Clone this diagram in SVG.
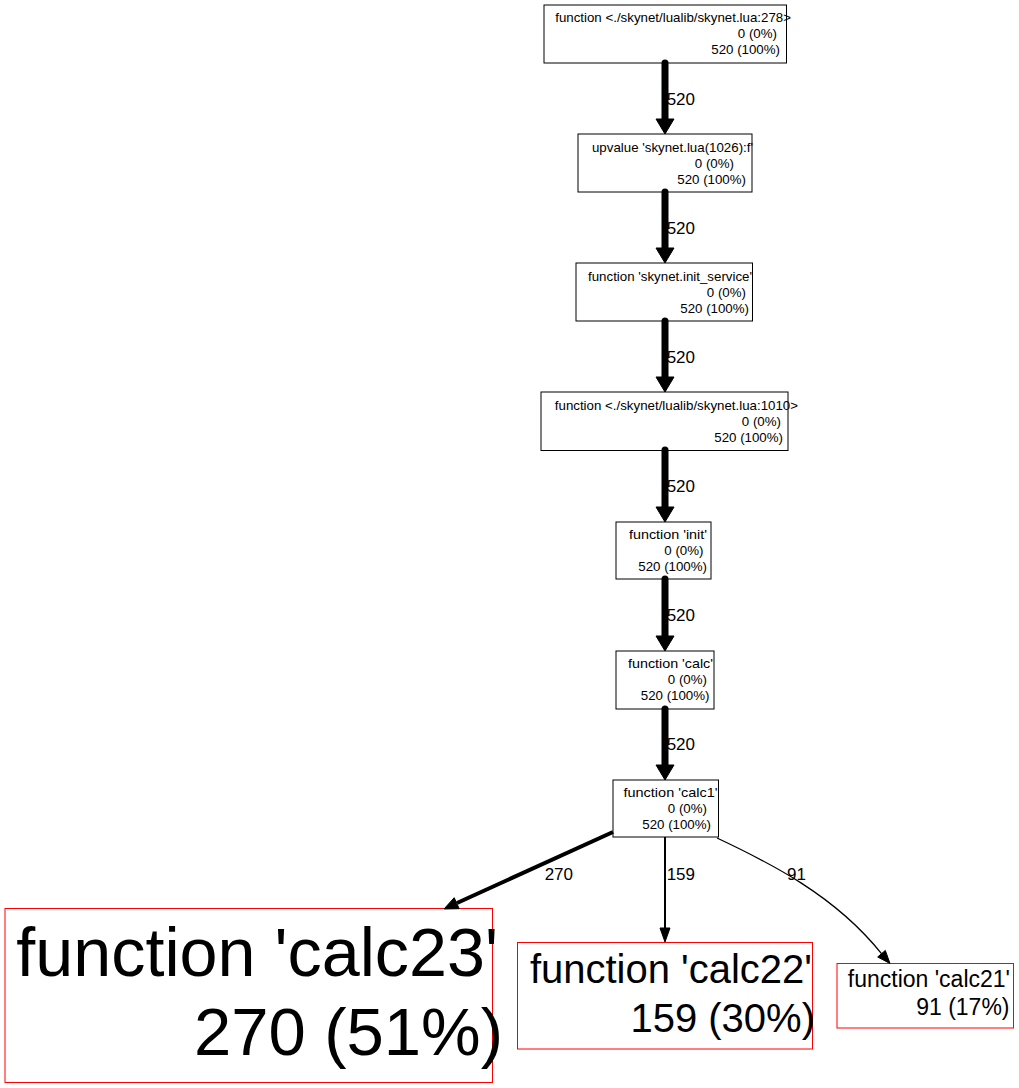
<svg xmlns="http://www.w3.org/2000/svg" width="1019" height="1088" viewBox="0 0 1019 1088">
<style>
.n rect{fill:#fff;stroke:#000;stroke-width:1}
.h rect{fill:#fff;stroke:#f00;stroke-width:1}
text{font-family:"Liberation Sans",Arial,sans-serif;fill:#000;text-anchor:end}
.s{font-size:13.3px}
.el{font-size:17px}
.thick{stroke:#000;stroke-width:7;fill:none;stroke-linecap:round}
.ah{fill:#000;stroke:#000;stroke-width:1}
</style>
<rect width="1019" height="1088" fill="#fff"/>
<g id="edge-labels">
<text class="el" x="695" y="105">520</text>
<text class="el" x="695" y="234">520</text>
<text class="el" x="695" y="363">520</text>
<text class="el" x="695" y="492">520</text>
<text class="el" x="695" y="621">520</text>
<text class="el" x="695" y="750">520</text>
<text class="el" x="573" y="880">270</text>
<text class="el" x="695" y="880">159</text>
<text class="el" x="806" y="880">91</text>
</g>
<g id="n1" class="n"><rect x="544" y="5" width="242.5" height="58"/>
<text class="s" x="791" y="22">function &lt;./skynet/lualib/skynet.lua:278&gt;</text>
<text class="s" x="777" y="38">0 (0%)</text>
<text class="s" x="780" y="54">520 (100%)</text></g>
<g id="n2" class="n"><rect x="578" y="134" width="174" height="58"/>
<text class="s" x="753" y="152">upvalue 'skynet.lua(1026):f'</text>
<text class="s" x="734" y="168">0 (0%)</text>
<text class="s" x="746" y="184">520 (100%)</text></g>
<g id="n3" class="n"><rect x="576" y="263" width="176.5" height="58"/>
<text class="s" x="752" y="281">function 'skynet.init_service'</text>
<text class="s" x="746" y="297">0 (0%)</text>
<text class="s" x="749" y="313">520 (100%)</text></g>
<g id="n4" class="n"><rect x="541" y="392" width="247" height="58.5"/>
<text class="s" x="798" y="410">function &lt;./skynet/lualib/skynet.lua:1010&gt;</text>
<text class="s" x="781" y="426">0 (0%)</text>
<text class="s" x="783" y="442">520 (100%)</text></g>
<g id="n5" class="n"><rect x="616" y="522" width="95" height="57"/>
<text class="s" x="707" y="539" textLength="78" lengthAdjust="spacingAndGlyphs">function 'init'</text>
<text class="s" x="703.5" y="555">0 (0%)</text>
<text class="s" x="707" y="571">520 (100%)</text></g>
<g id="n6" class="n"><rect x="616" y="651" width="98" height="58"/>
<text class="s" x="713" y="668" textLength="85" lengthAdjust="spacingAndGlyphs">function 'calc'</text>
<text class="s" x="707" y="684">0 (0%)</text>
<text class="s" x="709.5" y="700">520 (100%)</text></g>
<g id="n7" class="n"><rect x="613" y="780" width="105.5" height="57"/>
<text class="s" x="717.5" y="797" textLength="94" lengthAdjust="spacingAndGlyphs">function 'calc1'</text>
<text class="s" x="707" y="813">0 (0%)</text>
<text class="s" x="711" y="829">520 (100%)</text></g>
<g id="n8" class="h"><rect x="5" y="908.5" width="487.5" height="174"/>
<text x="498" y="976" font-size="68.3">function 'calc23'</text>
<text x="503" y="1055" font-size="67">270 (51%)</text></g>
<g id="n9" class="h"><rect x="517.5" y="942.5" width="295" height="106.5"/>
<text x="812" y="983" font-size="40">function 'calc22'</text>
<text x="815" y="1032" font-size="40">159 (30%)</text></g>
<g id="n10" class="h"><rect x="837" y="963.5" width="176.5" height="64.5"/>
<text x="1010" y="987" font-size="23">function 'calc21'</text>
<text x="1009.5" y="1015" font-size="23">91 (17%)</text></g>
<g id="connectors">
<path class="thick" d="M665,63V120"/><polygon class="ah" points="656,119 674,119 665,134"/>
<path class="thick" d="M665,192V249"/><polygon class="ah" points="656,248 674,248 665,263"/>
<path class="thick" d="M665,321V378"/><polygon class="ah" points="656,377 674,377 665,392"/>
<path class="thick" d="M665,450V507"/><polygon class="ah" points="656,507 674,507 665,522"/>
<path class="thick" d="M665,579V636"/><polygon class="ah" points="656,636 674,636 665,651"/>
<path class="thick" d="M665,709V765"/><polygon class="ah" points="656,765 674,765 665,780"/>
<path d="M613,832L457,903" stroke="#000" stroke-width="4" fill="none"/>
<polygon class="ah" points="459.2,908.7 454.2,897.7 444,909"/>
<path d="M665,837V929" stroke="#000" stroke-width="2" fill="none"/>
<polygon class="ah" points="660,928 670,928 665,942"/>
<path d="M717,838C768,862 835,895 881.5,953.7" stroke="#000" stroke-width="1.3" fill="none"/>
<polygon class="ah" points="885.3,950.4 877.7,957 890,963.5"/>
</g>
</svg>
